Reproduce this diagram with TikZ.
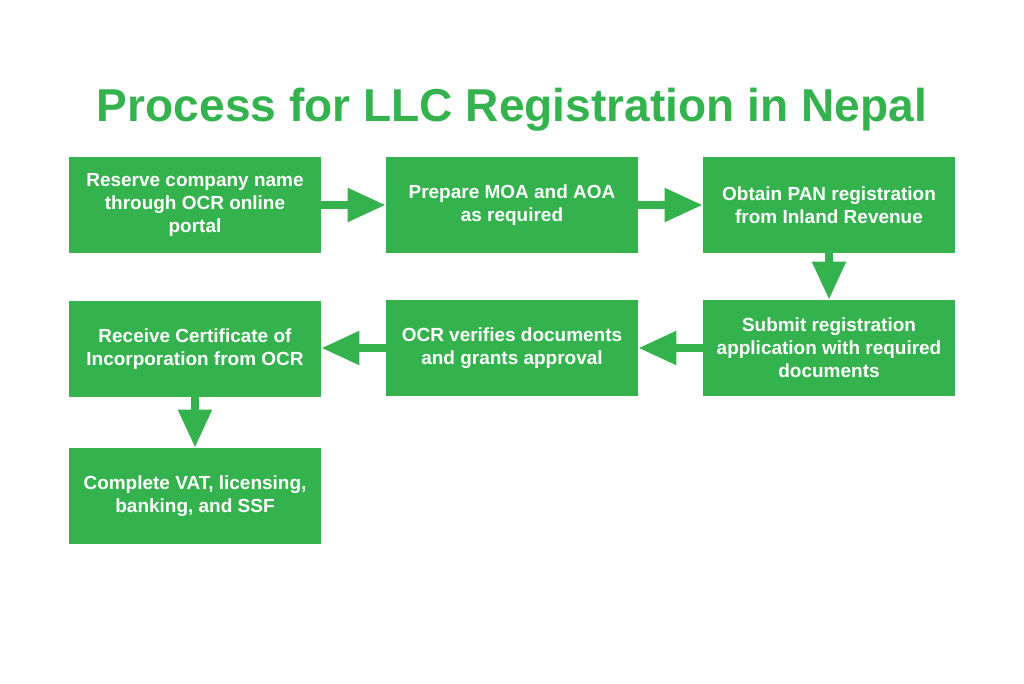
\documentclass[tikz,border=0pt]{standalone}
\usepackage{fontspec}
\setmainfont{Liberation Sans}
\usetikzlibrary{arrows.meta}
\definecolor{llcgreen}{RGB}{52,178,77}
\begin{document}
\begin{tikzpicture}[
  stepbox/.style={fill=llcgreen, text=white, minimum width=6.3cm, minimum height=2.4cm, align=center,
    font=\bfseries\fontsize{13.5}{16.5}\selectfont},
  flow/.style={draw=llcgreen, line width=0.2cm, -{Triangle[length=0.95cm,width=0.8cm]}},
  heading/.style={text=llcgreen, font=\bfseries\fontsize{32.8}{40}\selectfont}
]
\useasboundingbox (0,0) rectangle (25.6,-17.075);
\node[heading] (title) at (12.8,-2.75) {Process for LLC Registration in Nepal};
% first row, left to right
\node[stepbox] (reserve) at (4.875,-5.125) {Reserve company name\\through OCR online\\portal};
\node[stepbox] (moa) at (12.8,-5.125) {Prepare MOA and AOA\\as required};
\node[stepbox] (pan) at (20.725,-5.125) {Obtain PAN registration\\from Inland Revenue};
% second row, right to left
\node[stepbox] (submit) at (20.725,-8.7) {Submit registration\\application with required\\documents};
\node[stepbox] (verify) at (12.8,-8.7) {OCR verifies documents\\and grants approval};
\node[stepbox] (certificate) at (4.875,-8.72) {Receive Certificate of\\Incorporation from OCR};
% last step
\node[stepbox] (vat) at (4.875,-12.4) {Complete VAT, licensing,\\banking, and SSF};
\draw[flow] (reserve) -- (moa);
\draw[flow] (moa) -- (pan);
\draw[flow] (pan) -- (submit);
\draw[flow] (submit) -- (verify);
\draw[flow] (verify.west) -- (verify.west -| certificate.east);
\draw[flow] (certificate) -- (vat);
\end{tikzpicture}
\end{document}
